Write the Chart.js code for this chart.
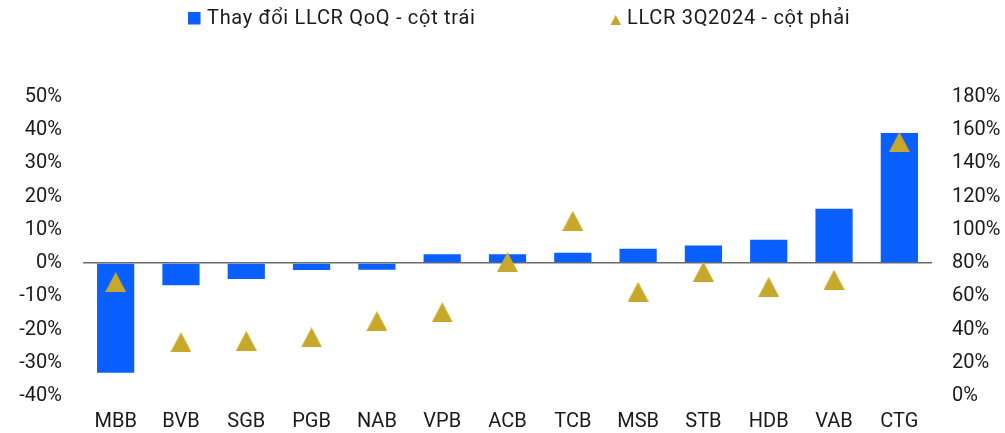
<!DOCTYPE html>
<html>
<head>
<meta charset="utf-8">
<script src="https://cdn.jsdelivr.net/npm/chart.js@4"></script>
<style>
  html, body { margin: 0; padding: 0; background: #fff; }
  #wrap { width: 1005px; height: 433px; position: relative; }
</style>
</head>
<body>
<div id="wrap"><canvas id="c" width="1005" height="433"></canvas></div>
<script>
// ---- data ----
const categories = ['MBB','BVB','SGB','PGB','NAB','VPB','ACB','TCB','MSB','STB','HDB','VAB','CTG'];
const qoqChange = [-33.0, -6.7, -4.8, -2.1, -2.0, 2.7, 2.7, 3.1, 4.3, 5.3, 7.0, 16.4, 39.2];
const llcr3Q2024 = [68.6, 32.4, 33.2, 35.3, 45.1, 50.4, 80.6, 105.5, 62.7, 74.8, 65.7, 70.0, 152.9];
const seriesNames = ['Thay đổi LLCR QoQ - cột trái', 'LLCR 3Q2024 - cột phải'];
const leftTicks = [-40, -30, -20, -10, 0, 10, 20, 30, 40, 50];
const rightTicks = [0, 20, 40, 60, 80, 100, 120, 140, 160, 180];

const BLUE = '#0A5FFF';
const GOLD = '#C8A82A';
const TEXT = '#1a1a1a';
const FONT = 'Roboto, "Liberation Sans", sans-serif';

function triangleImg(w, h, color) {
  const cv = document.createElement('canvas');
  cv.width = w; cv.height = h;
  const x = cv.getContext('2d');
  x.fillStyle = color;
  x.beginPath();
  x.moveTo(w / 2, 0);
  x.lineTo(w, h);
  x.lineTo(0, h);
  x.closePath();
  x.fill();
  return cv;
}
const triMarker = triangleImg(21, 20, GOLD);

const legendPlugin = {
  id: 'customLegend',
  afterDraw(chart) {
    const ctx = chart.ctx;
    ctx.save();
    ctx.font = '20px ' + FONT;
    try { ctx.letterSpacing = '0.7px'; } catch (e) {}
    ctx.textBaseline = 'middle';
    ctx.textAlign = 'left';
    const cy = 18.5;
    // item 1: blue square
    ctx.fillStyle = BLUE;
    ctx.fillRect(188, 12, 12.5, 12.5);
    ctx.fillStyle = TEXT;
    ctx.fillText(seriesNames[0], 207, cy);
    // item 2: gold triangle
    ctx.fillStyle = GOLD;
    ctx.beginPath();
    ctx.moveTo(615.7, 15); ctx.lineTo(621, 25); ctx.lineTo(610.5, 25); ctx.closePath();
    ctx.fill();
    ctx.fillStyle = TEXT;
    ctx.fillText(seriesNames[1], 627, cy);
    ctx.restore();
  }
};

const pct = v => v + '%';

new Chart(document.getElementById('c'), {
  type: 'bar',
  data: {
    labels: categories,
    datasets: [
      {
        type: 'scatter',
        label: seriesNames[1],
        data: llcr3Q2024.map((v, i) => ({ x: categories[i], y: v })),
        yAxisID: 'y2',
        xAxisID: 'x',
        pointStyle: triMarker,
        backgroundColor: GOLD,
        borderColor: GOLD,
        pointRadius: 10,
        pointHoverRadius: 10,
        showLine: false,
        order: 0
      },
      {
        type: 'bar',
        label: seriesNames[0],
        data: qoqChange,
        yAxisID: 'y',
        backgroundColor: BLUE,
        borderWidth: 0,
        barPercentage: 0.57,
        categoryPercentage: 1.0,
        order: 1
      }
    ]
  },
  options: {
    responsive: false,
    animation: false,
    devicePixelRatio: 1,
    layout: { padding: { top: 97, bottom: 3, left: 17, right: 4 } },
    plugins: {
      legend: { display: false },
      tooltip: { enabled: false }
    },
    scales: {
      x: {
        type: 'category',
        labels: categories,
        offset: true,
        grid: { display: false, drawTicks: false },
        border: { display: false },
        ticks: { color: TEXT, font: { size: 20, family: FONT }, padding: 14, maxRotation: 0, minRotation: 0, autoSkip: false },
        afterFit: s => { s.height = 34; }
      },
      y: {
        position: 'left',
        min: -40, max: 50,
        afterBuildTicks: s => { s.ticks = leftTicks.map(v => ({ value: v })); },
        grid: {
          drawTicks: false,
          color: c => (c.tick && c.tick.value === 0) ? '#6b6b6b' : 'rgba(0,0,0,0)',
          lineWidth: c => (c.tick && c.tick.value === 0) ? 1.5 : 0
        },
        border: { display: false },
        ticks: { color: TEXT, font: { size: 20, family: FONT }, padding: 21, callback: pct },
        afterFit: s => { s.width = 66; }
      },
      y2: {
        position: 'right',
        min: 0, max: 180,
        afterBuildTicks: s => { s.ticks = rightTicks.map(v => ({ value: v })); },
        grid: { display: false, drawTicks: false },
        border: { display: false },
        ticks: { color: TEXT, font: { size: 20, family: FONT }, padding: 20, callback: pct },
        afterFit: s => { s.width = 69; }
      }
    }
  },
  plugins: [legendPlugin]
});
</script>
</body>
</html>
